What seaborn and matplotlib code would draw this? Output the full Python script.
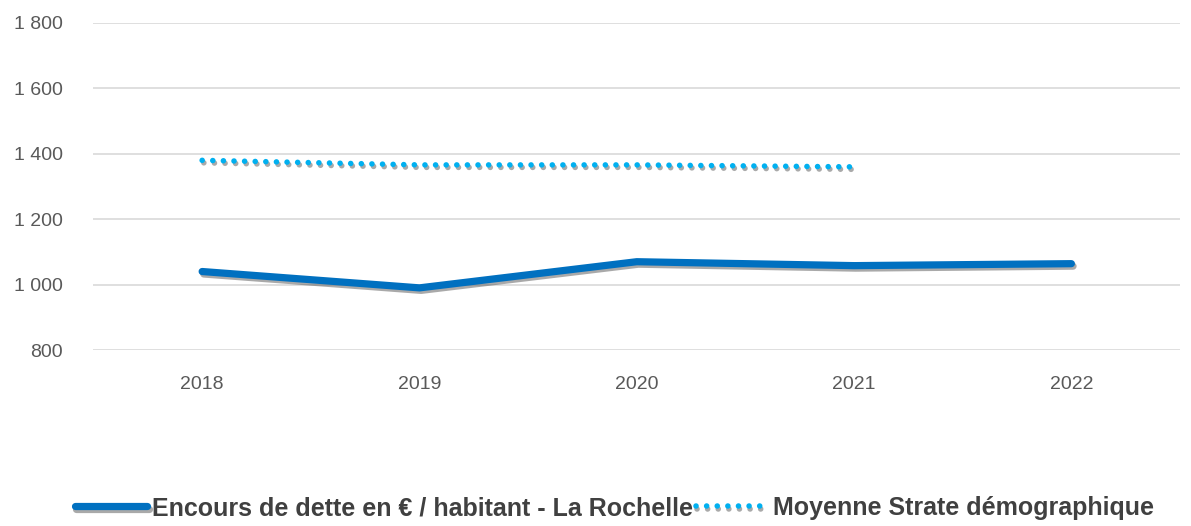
import pandas as pd
import seaborn as sns
import matplotlib.pyplot as plt
import matplotlib.patheffects as pe
from matplotlib.ticker import FuncFormatter

# Data
years = ["2018", "2019", "2020", "2021", "2022"]
encours = [1040, 990, 1070, 1058, 1064]
moyenne_years = ["2018", "2019", "2020", "2021"]
moyenne = [1380, 1366, 1366, 1360]

label_encours = "Encours de dette en € / habitant - La Rochelle"
label_moyenne = "Moyenne Strate démographique"

df_enc = pd.DataFrame({"annee": years, "valeur": encours})
df_moy = pd.DataFrame({"annee": moyenne_years, "valeur": moyenne})

sns.set_style("white")
plt.rcParams["font.family"] = ["Liberation Sans", "DejaVu Sans"]

fig = plt.figure(figsize=(11.91, 5.26), dpi=100)
ax = fig.add_axes([0.0785, 0.3346, 0.9123, 0.6217])

shadow = [pe.SimpleLineShadow(offset=(1.2, -1.8), shadow_color="#555555", alpha=0.5), pe.Normal()]

sns.lineplot(data=df_enc, x="annee", y="valeur", ax=ax, color="#0070C0",
             linewidth=5.2, solid_capstyle="round", label=label_encours,
             path_effects=shadow)
sns.lineplot(data=df_moy, x="annee", y="valeur", ax=ax, color="#00B0F0",
             linewidth=4, linestyle=(0, (0.01, 1.9)), dash_capstyle="round",
             label=label_moyenne, path_effects=shadow)

ax.set_xlim(-0.5, len(years) - 0.5)
ax.set_ylim(800, 1800)
ax.set_yticks(range(800, 1801, 200))
ax.yaxis.set_major_formatter(FuncFormatter(lambda v, p: f"{int(v):,}".replace(",", " ")))
ax.grid(axis="y", color="#D9D9D9", linewidth=1.2)
ax.set_axisbelow(True)
for s in ax.spines.values():
    s.set_visible(False)
ax.set_xlabel("")
ax.set_ylabel("")
ax.tick_params(axis="both", length=0, labelsize=14, labelcolor="#595959")
ax.tick_params(axis="x", pad=19)
ax.tick_params(axis="y", pad=22)

ax.legend_.remove()
handles, labels = ax.get_legend_handles_labels()
leg = fig.legend(handles, labels, loc="center", bbox_to_anchor=(0.516, 0.034),
                 ncol=2, frameon=False, handlelength=2.9, handletextpad=0.2,
                 columnspacing=0.1, borderpad=0, prop={"size": 18, "weight": "bold"})
for t in leg.get_texts():
    t.set_color("#404040")

fig.savefig("out.png", dpi=100)
